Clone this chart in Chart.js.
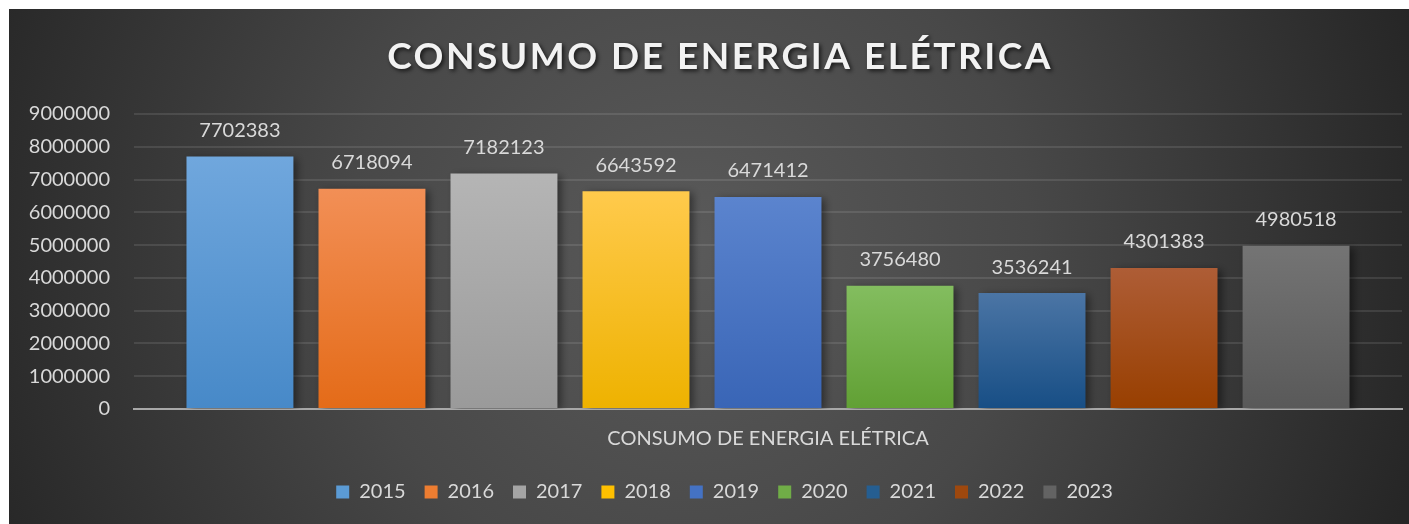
<!DOCTYPE html>
<html>
<head>
<meta charset="utf-8">
<script src="https://cdn.jsdelivr.net/npm/chart.js@4/dist/chart.umd.min.js"></script>
<style>
  html, body { margin: 0; padding: 0; background: #ffffff; }
  #wrap { position: absolute; left: 9px; top: 9px; width: 1400px; height: 515px; }
</style>
</head>
<body>
<div id="wrap"><canvas id="c" width="1400" height="515"></canvas></div>
<script>
const chartTitle = 'CONSUMO DE ENERGIA ELÉTRICA';
const categories = ['CONSUMO DE ENERGIA ELÉTRICA'];
const years = ['2015', '2016', '2017', '2018', '2019', '2020', '2021', '2022', '2023'];
const values = [7702383, 6718094, 7182123, 6643592, 6471412, 3756480, 3536241, 4301383, 4980518];
const yTicks = [0, 1000000, 2000000, 3000000, 4000000, 5000000, 6000000, 7000000, 8000000, 9000000];
const topColors = ['#70a7dd', '#f28f56', '#b5b5b5', '#ffca4c', '#5b84ce', '#83bd5f', '#4b75a5', '#ae5d36', '#747474'];
const bottomColors = ['#4789c8', '#e46b18', '#9a9a9a', '#eeb200', '#3965b6', '#61a034', '#174e85', '#983f00', '#595959'];
const legendColors = ['#5b9bd5', '#ed7d31', '#a5a5a5', '#ffc000', '#4472c4', '#70ad47', '#255e91', '#9e480e', '#636363'];

const FONT = 'Lato, "Open Sans", sans-serif';

const bgPlugin = {
  id: 'bg',
  afterLayout(chart) {
    const lg = chart.legend;
    if (lg) { lg.left += 11; lg.right += 11; }
  },
  beforeDraw(chart) {
    const ctx = chart.ctx;
    const w = chart.width, h = chart.height;
    ctx.save();
    const g = ctx.createRadialGradient(680, 240, 0, 680, 240, 760);
    g.addColorStop(0, '#5a5a5a');
    g.addColorStop(0.45, '#484848');
    g.addColorStop(1, '#262626');
    ctx.fillStyle = g;
    ctx.fillRect(0, 0, w, h);
    ctx.font = 'bold 37px ' + FONT;
    ctx.letterSpacing = '2.5px';
    ctx.textAlign = 'center';
    ctx.textBaseline = 'middle';
    ctx.shadowColor = 'rgba(0,0,0,0.7)';
    ctx.shadowBlur = 4;
    ctx.shadowOffsetX = 2;
    ctx.shadowOffsetY = 2;
    ctx.fillStyle = '#f2f2f2';
    ctx.fillText(chartTitle, 711, 48);
    ctx.restore();
  }
};

const shadowLabelPlugin = {
  id: 'shadowLabels',
  beforeDatasetsDraw(chart) {
    const ctx = chart.ctx;
    ctx.save();
    ctx.shadowColor = 'rgba(0,0,0,0.45)';
    ctx.shadowBlur = 8;
    ctx.shadowOffsetX = 4;
    ctx.shadowOffsetY = 2;
  },
  afterDatasetsDraw(chart) {
    const ctx = chart.ctx;
    ctx.restore();
    ctx.save();
    ctx.font = '20px ' + FONT;
    ctx.fillStyle = '#d9d9d9';
    ctx.textAlign = 'center';
    ctx.textBaseline = 'middle';
    chart.data.datasets.forEach((ds, i) => {
      const meta = chart.getDatasetMeta(i);
      meta.data.forEach((bar, j) => {
        ctx.fillText(String(ds.data[j]), bar.x, bar.y - 26);
      });
    });
    ctx.restore();
  }
};

function gradFor(i) {
  return (context) => {
    const chart = context.chart;
    const area = chart.chartArea;
    if (!area || !chart.scales.y) return bottomColors[i];
    const top = chart.scales.y.getPixelForValue(values[i]);
    const bottom = chart.scales.y.getPixelForValue(0);
    if (!isFinite(top) || !isFinite(bottom) || top === bottom) return bottomColors[i];
    const g = chart.ctx.createLinearGradient(0, top, 0, bottom);
    g.addColorStop(0, topColors[i]);
    g.addColorStop(1, bottomColors[i]);
    return g;
  };
}

const datasets = years.map((y, i) => ({
  label: y,
  data: [values[i]],
  backgroundColor: gradFor(i),
  borderWidth: 0,
  categoryPercentage: 0.937,
  barPercentage: 0.81
}));

new Chart(document.getElementById('c'), {
  type: 'bar',
  data: { labels: categories, datasets },
  plugins: [bgPlugin, shadowLabelPlugin],
  options: {
    responsive: false,
    animation: false,
    events: [],
    layout: { padding: { top: 105, left: 16, right: 7, bottom: 12 } },
    plugins: {
      title: { display: false },
      tooltip: { enabled: false },
      legend: {
        position: 'bottom',
        labels: {
          color: '#d9d9d9',
          font: { family: FONT, size: 20 },
          boxWidth: 13,
          boxHeight: 13,
          padding: 19,
          generateLabels(chart) {
            return chart.data.datasets.map((ds, i) => ({
              text: ds.label,
              fillStyle: legendColors[i],
              strokeStyle: 'rgba(0,0,0,0)',
              lineWidth: 0,
              fontColor: '#d9d9d9',
              hidden: false,
              datasetIndex: i
            }));
          }
        }
      }
    },
    scales: {
      x: {
        grid: { display: false },
        border: { display: true, color: '#a8a8a8', width: 2 },
        ticks: { color: '#d9d9d9', font: { family: FONT, size: 20 }, padding: 10 },
        afterFit(s) { s.height = 54; }
      },
      y: {
        min: 0,
        max: 9000000,
        afterBuildTicks(s) { s.ticks = yTicks.map(v => ({ value: v })); },
        grid: { color: 'rgba(255,255,255,0.1)', lineWidth: 2, drawTicks: false },
        border: { display: false },
        ticks: {
          color: '#d9d9d9',
          font: { family: FONT, size: 20 },
          padding: 24,
          callback: (v) => String(v)
        },
        afterFit(s) { s.width = 109; }
      }
    }
  }
});
</script>
</body>
</html>
